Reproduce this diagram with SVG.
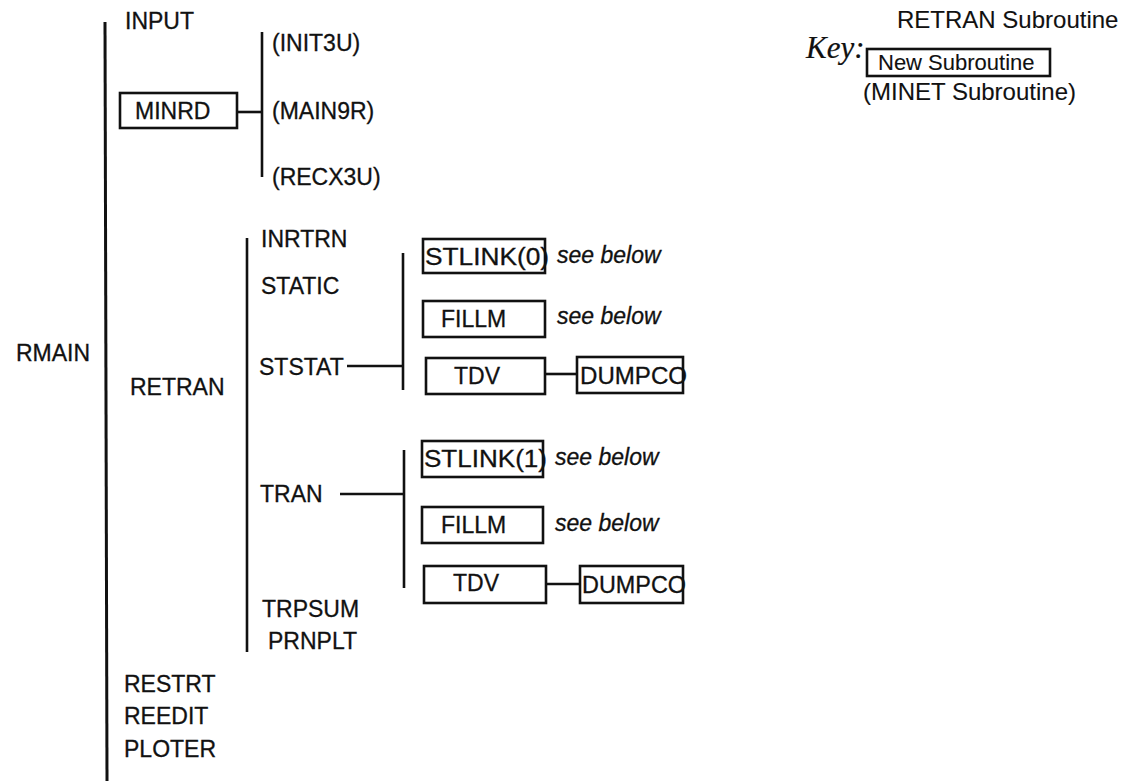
<svg xmlns="http://www.w3.org/2000/svg" width="1139" height="781" viewBox="0 0 1139 781">
<style>
text{font-family:"Liberation Sans",Arial,Helvetica,sans-serif;font-size:23px;fill:#111;stroke:#111;stroke-width:0.3}
.it{font-style:italic}
.key{font-family:"Liberation Serif","Times New Roman",serif;font-style:italic;font-size:31px;stroke-width:0.2}
.lg{font-size:24px;stroke-width:0.1}
.box{fill:#fff;stroke:#111;stroke-width:2.6}
.ln{stroke:#111;stroke-width:2.6;fill:none}
</style>
<rect width="1139" height="781" fill="#fff"/>
<g id="connectors">
<line class="ln" x1="105" y1="22" x2="107" y2="781" style="stroke-width:3"/>
<line class="ln" x1="262" y1="32" x2="262" y2="177"/>
<line class="ln" x1="238" y1="112" x2="262" y2="112"/>
<line class="ln" x1="247" y1="238" x2="247" y2="652"/>
<line class="ln" x1="403" y1="253" x2="403" y2="390"/>
<line class="ln" x1="347" y1="366" x2="403" y2="366"/>
<line class="ln" x1="404" y1="450" x2="404" y2="588"/>
<line class="ln" x1="340" y1="494" x2="404" y2="494"/>
<line class="ln" x1="545" y1="374" x2="577" y2="374"/>
<line class="ln" x1="546" y1="584" x2="580" y2="584"/>
</g>
<g id="RMAIN"><text x="16" y="361">RMAIN</text></g>
<g id="INPUT"><text x="125" y="29">INPUT</text></g>
<g id="MINRD"><rect class="box" x="120" y="93" width="117" height="35"/><text x="135" y="119">MINRD</text></g>
<g id="INIT3U"><text x="272" y="51">(INIT3U)</text></g>
<g id="MAIN9R"><text x="272" y="119">(MAIN9R)</text></g>
<g id="RECX3U"><text x="272" y="185">(RECX3U)</text></g>
<g id="RETRAN"><text x="130" y="395">RETRAN</text></g>
<g id="INRTRN"><text x="261" y="247">INRTRN</text></g>
<g id="STATIC"><text x="261" y="294">STATIC</text></g>
<g id="STSTAT"><text x="259" y="375">STSTAT</text></g>
<g id="STLINK0"><rect class="box" x="423" y="239" width="122" height="34"/><text x="425" y="265" textLength="124" lengthAdjust="spacingAndGlyphs">STLINK(0)</text><text class="it" x="557" y="263">see below</text></g>
<g id="FILLM0"><rect class="box" x="423" y="301" width="122" height="36"/><text x="441" y="327">FILLM</text><text class="it" x="557" y="324">see below</text></g>
<g id="TDV0"><rect class="box" x="426" y="358" width="119" height="36"/><text x="454" y="384">TDV</text></g>
<g id="DUMPCO0"><rect class="box" x="577" y="357" width="106" height="36"/><text x="580" y="384" textLength="107" lengthAdjust="spacingAndGlyphs">DUMPCO</text></g>
<g id="TRAN"><text x="260" y="502">TRAN</text></g>
<g id="STLINK1"><rect class="box" x="422" y="441" width="121" height="36"/><text x="424" y="467" textLength="123" lengthAdjust="spacingAndGlyphs">STLINK(1)</text><text class="it" x="555" y="465">see below</text></g>
<g id="FILLM1"><rect class="box" x="422" y="507" width="121" height="36"/><text x="441" y="533">FILLM</text><text class="it" x="555" y="531">see below</text></g>
<g id="TDV1"><rect class="box" x="424" y="566" width="122" height="37"/><text x="453" y="591">TDV</text></g>
<g id="DUMPCO1"><rect class="box" x="580" y="566" width="103" height="37"/><text x="582" y="593" textLength="104" lengthAdjust="spacingAndGlyphs">DUMPCO</text></g>
<g id="TRPSUM"><text x="262" y="617">TRPSUM</text></g>
<g id="PRNPLT"><text x="268" y="649">PRNPLT</text></g>
<g id="RESTRT"><text x="124" y="692">RESTRT</text></g>
<g id="REEDIT"><text x="124" y="724">REEDIT</text></g>
<g id="PLOTER"><text x="124" y="757">PLOTER</text></g>
<g id="legend">
<text class="lg" x="897" y="28">RETRAN Subroutine</text>
<text class="key" x="806" y="58">Key:</text>
<rect class="box" x="867" y="49" width="183" height="27"/>
<text class="lg" x="878" y="70" style="font-size:22px">New Subroutine</text>
<text class="lg" x="863" y="100">(MINET Subroutine)</text>
</g>
</svg>
